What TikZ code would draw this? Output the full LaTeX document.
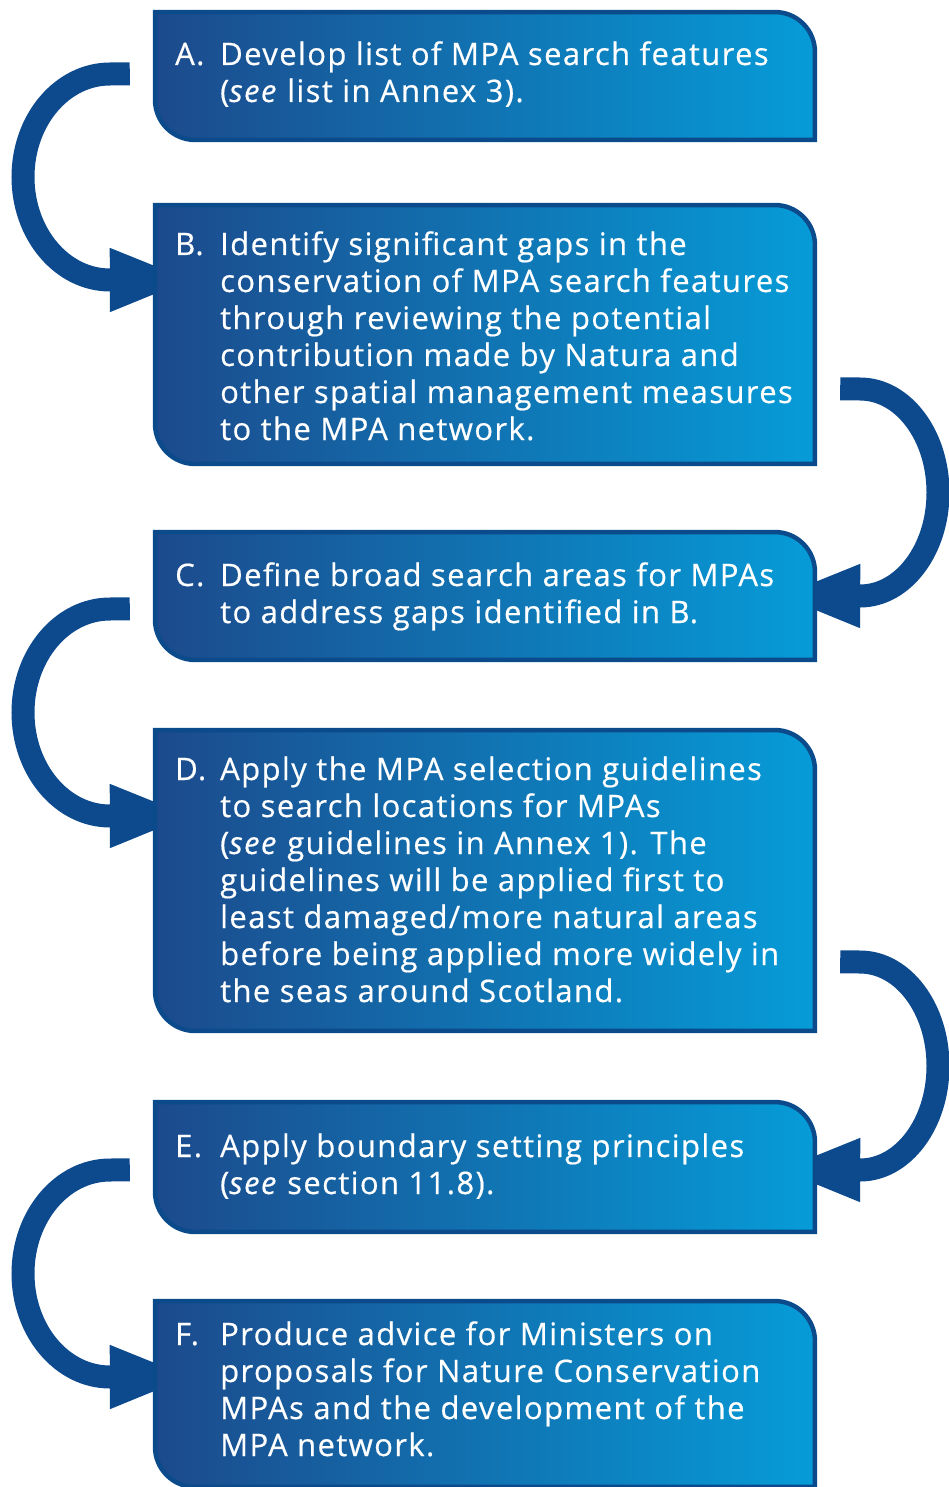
\documentclass[tikz,border=0pt]{standalone}
\usepackage{fontspec}
\setmainfont{Open Sans}[LetterSpace=4.5,FakeBold=0.5]
\usetikzlibrary{arrows.meta,calc}
\definecolor{arrowblue}{RGB}{13,74,141}
\definecolor{edgeblue}{RGB}{11,74,139}
\definecolor{shadeleft}{RGB}{28,74,140}
\definecolor{shademid}{RGB}{52,118,176}
\definecolor{shaderight}{RGB}{6,156,216}
\newcommand\flowshape[1]{%
  \path[boxpaint] let \p1=(#1.north west), \p2=(#1.south east) in
    (\x1+2.25pt,\y1-2.25pt) -- (\x2-42.25pt,\y1-2.25pt)
    arc[start angle=90,end angle=0,radius=40pt]
    -- (\x2-2.25pt,\y2+2.25pt) -- (\x1+42.25pt,\y2+2.25pt)
    arc[start angle=270,end angle=180,radius=40pt] -- cycle;}
\begin{document}
\begin{tikzpicture}[x=1pt,y=-1pt,
  boxnode/.style={rectangle,inner sep=0pt,draw=none,minimum width=664pt},
  boxpaint/.style={draw=edgeblue,line width=4.5pt,left color=shadeleft,middle color=shademid,right color=shaderight},
  flowarrow/.style={draw=arrowblue,line width=23pt,-{Triangle[width=57pt,length=84pt]}},
  steptext/.style={anchor=base west,inner sep=0pt,text=white,font=\fontsize{31}{37}\selectfont}]
\useasboundingbox (0,0) rectangle (949,1487);
\clip (0,0) rectangle (949,1487);
% box nodes
\node[boxnode,minimum height=132pt] (A) at (485,76) {};
\node[boxnode,minimum height=263pt] (B) at (485,334.5) {};
\node[boxnode,minimum height=132pt] (C) at (485,596) {};
\node[boxnode,minimum height=305pt] (D) at (485,880.5) {};
\node[boxnode,minimum height=134pt] (E) at (485,1167) {};
\node[boxnode,minimum height=190pt] (F) at (485,1394) {};
% connectors
\draw[flowarrow] ($(A.north west)+(-23,64)$) -- (110,74)
  .. controls (62,74) and (23,120.1) .. (23,177)
  .. controls (23,233.9) and (62,280) .. (110,280) -- ($(B.north west)+(41,77)$);
\draw[flowarrow] ($(B.north east)+(23,186)$) -- (860,389)
  .. controls (903.1,389) and (938,435.3) .. (938,492.5)
  .. controls (938,549.7) and (903.1,596) .. (860,596) -- ($(C.north east)+(-41,66)$);
\draw[flowarrow] ($(C.north west)+(-23,79)$) -- (110,609)
  .. controls (62,609) and (23,655.3) .. (23,712.5)
  .. controls (23,769.7) and (62,816) .. (110,816) -- ($(D.north west)+(41,88)$);
\draw[flowarrow] ($(D.north east)+(23,234)$) -- (860,962)
  .. controls (903.1,962) and (938,1008.6) .. (938,1066)
  .. controls (938,1123.4) and (903.1,1170) .. (860,1170) -- ($(E.north east)+(-41,70)$);
\draw[flowarrow] ($(E.north west)+(-23,70)$) -- (110,1170)
  .. controls (62,1170) and (23,1216.3) .. (23,1273.5)
  .. controls (23,1330.7) and (62,1377) .. (110,1377) -- ($(F.north west)+(41,78)$);
% boxes
\flowshape{A}\flowshape{B}\flowshape{C}\flowshape{D}\flowshape{E}\flowshape{F}
% texts
\node[steptext] (tA) at (175,65) {\begin{tabular}[t]{@{}p{45pt}@{}l@{}}
A. & Develop list of MPA search features\\
 & (\textit{see} list in Annex 3).\end{tabular}};
\node[steptext] (tB) at (175,255) {\begin{tabular}[t]{@{}p{45pt}@{}l@{}}
B. & Identify significant gaps in the\\
 & conservation of MPA search features\\
 & through reviewing the potential\\
 & contribution made by Natura and\\
 & other spatial management measures\\
 & to the MPA network.\end{tabular}};
\node[steptext] (tC) at (175,586) {\begin{tabular}[t]{@{}p{45pt}@{}l@{}}
C. & Define broad search areas for MPAs\\
 & to address gaps identified in B.\end{tabular}};
\node[steptext] (tD) at (175,780) {\begin{tabular}[t]{@{}p{45pt}@{}l@{}}
D. & Apply the MPA selection guidelines\\
 & to search locations for MPAs\\
 & (\textit{see} guidelines in Annex 1). The\\
 & guidelines will be applied first to\\
 & least damaged/more natural areas\\
 & before being applied more widely in\\
 & the seas around Scotland.\end{tabular}};
\node[steptext] (tE) at (175,1157) {\begin{tabular}[t]{@{}p{45pt}@{}l@{}}
E. & Apply boundary setting principles\\
 & (\textit{see} section 11.8).\end{tabular}};
\node[steptext] (tF) at (175,1345) {\begin{tabular}[t]{@{}p{45pt}@{}l@{}}
F. & Produce advice for Ministers on\\
 & proposals for Nature Conservation\\
 & MPAs and the development of the\\
 & MPA network.\end{tabular}};
\end{tikzpicture}
\end{document}
